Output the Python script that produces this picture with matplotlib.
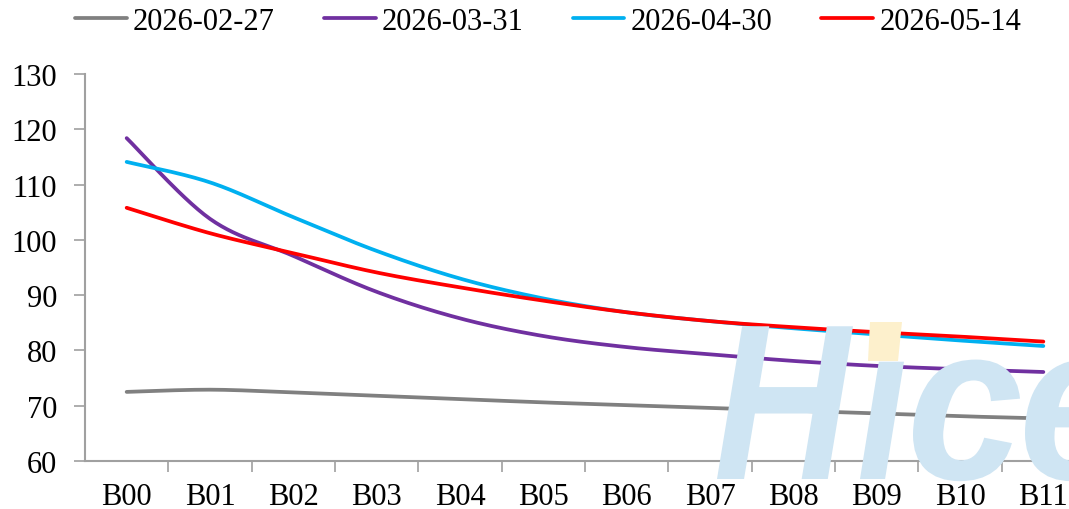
import numpy as np
import matplotlib.pyplot as plt
from matplotlib.patches import Polygon, PathPatch
from matplotlib.textpath import TextPath
from matplotlib.font_manager import FontProperties
from matplotlib.transforms import Affine2D, IdentityTransform

# ---- data ----
tenors = ['B00', 'B01', 'B02', 'B03', 'B04', 'B05', 'B06', 'B07', 'B08', 'B09', 'B10', 'B11']
dates = ['2026-02-27', '2026-03-31', '2026-04-30', '2026-05-14']
s_0227 = [72.5, 72.9, 72.4, 71.8, 71.2, 70.6, 70.1, 69.6, 69.1, 68.6, 68.1, 67.7]
s_0331 = [118.4, 103.8, 97.1, 90.6, 85.8, 82.6, 80.6, 79.3, 78.1, 77.2, 76.6, 76.1]
s_0430 = [114.1, 110.4, 104.1, 98.0, 93.0, 89.4, 86.9, 85.3, 84.0, 82.9, 81.8, 80.8]
s_0514 = [105.8, 101.2, 97.6, 94.1, 91.4, 89.0, 86.9, 85.3, 84.2, 83.3, 82.5, 81.6]
colors = ['#808080', '#7030A0', '#00B0F0', '#FF0000']


def smooth(y, n=30):
    # catmull-rom style bezier, like office "smoothed line"
    y = np.asarray(y, dtype=float)
    x = np.arange(len(y), dtype=float)
    px = np.concatenate([[x[0]], x, [x[-1]]])
    py = np.concatenate([[y[0]], y, [y[-1]]])
    xs, ys = [], []
    t = np.linspace(0, 1, n)
    for i in range(len(y) - 1):
        p0 = np.array([px[i + 1], py[i + 1]])
        p3 = np.array([px[i + 2], py[i + 2]])
        p1 = p0 + (np.array([px[i + 2], py[i + 2]]) - np.array([px[i], py[i]])) / 6
        p2 = p3 - (np.array([px[i + 3], py[i + 3]]) - np.array([px[i + 1], py[i + 1]])) / 6
        b = ((1 - t) ** 3)[:, None] * p0 + (3 * (1 - t) ** 2 * t)[:, None] * p1 \
            + (3 * (1 - t) * t ** 2)[:, None] * p2 + (t ** 3)[:, None] * p3
        xs.append(b[:, 0])
        ys.append(b[:, 1])
    return np.concatenate(xs), np.concatenate(ys)


plt.rcParams['font.family'] = ['Liberation Serif', 'DejaVu Serif']

fig = plt.figure(figsize=(10.69, 5.10), dpi=100)
ax = fig.add_axes([85 / 1069, 48 / 510, 1000 / 1069, 387 / 510])

# watermark letters, each fitted into its own pixel box (left, width)
wm_prop = FontProperties(family='Liberation Sans', weight='bold', style='italic')
sx_c = None
for ch, x0, w in [('H', 717, 136), ('\u0131', 860, 44), ('c', 913, 107), ('e', 1025, None)]:
    p = TextPath((0, 0), ch, size=222, prop=wm_prop)
    ext = p.get_extents()
    sx = w / ext.width if w else sx_c
    if ch == 'c':
        sx_c = sx
    p = Affine2D().translate(-ext.x0, 0).scale(sx, 1.0).translate(x0, 30).transform_path(p)
    fig.patches.append(PathPatch(p, transform=IdentityTransform(), facecolor='#cfe5f3',
                                 edgecolor='none', zorder=0))
fig.patches.append(Polygon([[868, 148], [898, 148], [902, 187], [870, 187]],
                           closed=True, transform=IdentityTransform(), facecolor='#fdf0cc',
                           edgecolor='none', zorder=0))
ax.set_facecolor('none')

for s, c, lab in zip([s_0227, s_0331, s_0430, s_0514], colors, dates):
    xs, ys = smooth(s)
    ax.plot(xs, ys, color=c, lw=2.7, label=lab, solid_capstyle='round')

ax.set_xlim(-0.5, 11.5)
ax.set_ylim(60, 130)
ax.set_yticks(range(60, 131, 10))
ax.set_xticks(range(len(tenors)))
ax.set_xticklabels(tenors)
ax.set_xticks(np.arange(0.5, 11, 1), minor=True)
ax.tick_params(axis='x', which='major', length=0, pad=15, labelsize=22)
ax.tick_params(axis='x', which='minor', length=8, width=1.2, color='#a0a0a0', direction='out')
ax.tick_params(axis='y', length=8, width=1.2, color='#a0a0a0', labelsize=22, pad=12)

for side in ['top', 'right']:
    ax.spines[side].set_visible(False)
for side in ['left', 'bottom']:
    ax.spines[side].set_color('#a0a0a0')
    ax.spines[side].set_linewidth(1.5)

fig.legend(loc='center', bbox_to_anchor=(548 / 1069, 1 - 22 / 510), ncol=4, frameon=False,
           fontsize=22, handlelength=1.7, handletextpad=0.2, columnspacing=1.6,
           borderaxespad=0, borderpad=0)

fig.savefig('out.png', dpi=100)
